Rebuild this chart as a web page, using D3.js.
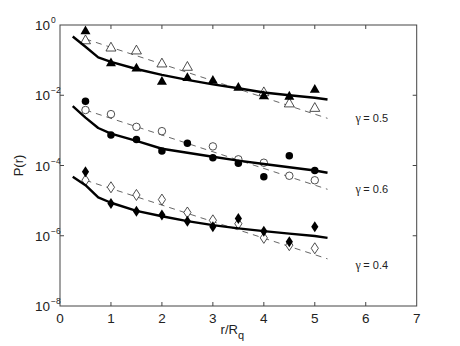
<!DOCTYPE html>
<html>
<head>
<meta charset="utf-8">
<script src="https://cdn.jsdelivr.net/npm/d3@7"></script>
<style>
  body { margin: 0; background: #fff; }
  text { font-family: "Liberation Sans", Arial, sans-serif; fill: #222; }
</style>
</head>
<body>
<div id="chart"></div>
<script>
// r / R_q positions of the measured points
var rPoints = [0.5, 1, 1.5, 2, 2.5, 3, 3.5, 4, 4.5, 5]
// r / R_q positions of the solid model curves
var rCurve = [0.25, 0.5, 0.75, 1, 1.5, 2, 2.5, 3, 3.5, 4, 4.5, 5, 5.25]
// end points of the dashed fits
var rFit = [0.5, 5.25]

// gamma = 0.5 (triangles)
var filled05 = [0.69, 0.085, 0.060, 0.025, 0.032, 0.027, 0.017, 0.0098, 0.0095, 0.0148]
var open05   = [0.37, 0.23, 0.19, 0.081, 0.065, null, null, 0.0123, 0.0059, 0.0044]
var curve05  = [0.47, 0.24, 0.12, 0.089, 0.056, 0.038, 0.0275, 0.0204, 0.0158, 0.012, 0.0100, 0.0085, 0.0076]
var fit05    = [0.40, 2.2e-3]

// gamma = 0.6 (circles)
var filled06 = [6.8e-3, 7.4e-4, 5.5e-4, 2.6e-4, 4.3e-4, 1.66e-4, 1.15e-4, 4.8e-5, 1.9e-4, 7.2e-5]
var open06   = [3.8e-3, 2.9e-3, 1.26e-3, 9.5e-4, null, 3.5e-4, 1.5e-4, 1.2e-4, 5.1e-5, 3.8e-5]
var curve06  = [4.9e-3, 2.3e-3, 1.17e-3, 8.1e-4, 5.0e-4, 3.0e-4, 2.3e-4, 1.78e-4, 1.38e-4, 1.1e-4, 8.9e-5, 7.2e-5, 6.2e-5]
var fit06    = [3.8e-3, 2.1e-5]

// gamma = 0.4 (diamonds)
var filled04 = [6.6e-5, 8.3e-6, 5.0e-6, 3.9e-6, 2.6e-6, 1.8e-6, 3.1e-6, 1.35e-6, 6.8e-7, 1.8e-6]
var open04   = [3.8e-5, 2.4e-5, 1.45e-5, 1.07e-5, 4.6e-6, 2.75e-6, 2.2e-6, 8.7e-7, 5.4e-7, 4.4e-7]
var curve04  = [4.8e-5, 2.75e-5, 1.23e-5, 8.7e-6, 5.1e-6, 3.6e-6, 2.6e-6, 2.0e-6, 1.62e-6, 1.35e-6, 1.15e-6, 9.8e-7, 8.7e-7]
var fit04    = [3.8e-5, 2.2e-7]

var xTicks = [0, 1, 2, 3, 4, 5, 6, 7]
var yTickExp = [0, -2, -4, -6, -8]
var groupLabels = ["0.5", "0.6", "0.4"]
var labelAt = [2.3e-3, 2.1e-5, 1.45e-7]

var width = 460, height = 346
var margin = {left: 60, top: 25, right: 43.3, bottom: 40}

const svg = d3.select("#chart").append("svg")
              .attr("width", width).attr("height", height)

var xScale = d3.scaleLinear().domain([0, 7]).range([margin.left, width - margin.right])
var yScale = d3.scaleLog().domain([1e-8, 1]).range([height - margin.bottom, margin.top])

var x0 = margin.left, x1 = width - margin.right
var y0 = height - margin.bottom, y1 = margin.top
var axisColor = "#444"

// box
svg.append("rect")
   .attr("x", x0).attr("y", y1)
   .attr("width", x1 - x0).attr("height", y0 - y1)
   .attr("fill", "none").attr("stroke", axisColor).attr("stroke-width", 1)

// ticks on all four sides, pointing inwards
xTicks.slice(1, -1).forEach(function(t){
    var x = xScale(t)
    svg.append("line").attr("x1", x).attr("x2", x).attr("y1", y0).attr("y2", y0 - 4).attr("stroke", axisColor)
    svg.append("line").attr("x1", x).attr("x2", x).attr("y1", y1).attr("y2", y1 + 4).attr("stroke", axisColor)
})
yTickExp.slice(1, -1).forEach(function(e){
    var y = yScale(Math.pow(10, e))
    svg.append("line").attr("x1", x0).attr("x2", x0 + 4).attr("y1", y).attr("y2", y).attr("stroke", axisColor)
    svg.append("line").attr("x1", x1).attr("x2", x1 - 4).attr("y1", y).attr("y2", y).attr("stroke", axisColor)
})

// tick labels
svg.selectAll(".xlab").data(xTicks).enter().append("text")
   .attr("x", d => xScale(d)).attr("y", y0 + 16.5)
   .attr("text-anchor", "middle").attr("font-size", 13.5)
   .text(d => d)

var yl = svg.selectAll(".ylab").data(yTickExp).enter().append("text")
   .attr("x", 50).attr("y", d => yScale(Math.pow(10, d)) + 5)
   .attr("text-anchor", "end").attr("font-size", 13.5)
yl.text("10")
yl.append("tspan").attr("dy", -7).attr("font-size", 8.5)
  .attr("x", 51).attr("text-anchor", "start")
  .text(d => d === 0 ? "0" : "\u2212" + Math.abs(d))

// axis titles
var xt = svg.append("text").attr("x", xScale(3.5) - 6).attr("y", 334)
   .attr("text-anchor", "middle").attr("font-size", 13).text("r/R")
xt.append("tspan").attr("dy", 5).attr("font-size", 11).text("q")

svg.append("text")
   .attr("transform", "translate(23," + ((y0 + y1) / 2) + ") rotate(-90)")
   .attr("text-anchor", "middle").attr("font-size", 13).text("P(r)")

var groups = [
    {filled: filled05, open: open05, curve: curve05, fit: fit05, shape: "tri"},
    {filled: filled06, open: open06, curve: curve06, fit: fit06, shape: "circ"},
    {filled: filled04, open: open04, curve: curve04, fit: fit04, shape: "dia"}
]

var line = d3.line().x(d => xScale(d[0])).y(d => yScale(d[1]))

function markerPath(shape){
    if (shape === "tri") return "M0,-5.2L5,3.6L-5,3.6Z"
    if (shape === "dia") return "M0,-5.5L3.6,0L0,5.5L-3.6,0Z"
    return d3.symbol().type(d3.symbolCircle).size(44)()
}

groups.forEach(function(g, gi){
    // dashed fit
    svg.append("path")
       .attr("d", line(rFit.map((r, i) => [r, g.fit[i]])))
       .attr("fill", "none").attr("stroke", "#555").attr("stroke-width", 0.9)
       .attr("stroke-dasharray", "6,5")

    // open markers
    svg.selectAll(".open" + gi)
       .data(rPoints.map((r, i) => [r, g.open[i]]).filter(d => d[1] !== null))
       .enter().append("path")
       .attr("d", markerPath(g.shape))
       .attr("transform", d => "translate(" + xScale(d[0]) + "," + yScale(d[1]) + ")")
       .attr("fill", "#fff").attr("stroke", "#222").attr("stroke-width", 0.8)

    // solid model curve
    svg.append("path")
       .attr("d", line(rCurve.map((r, i) => [r, g.curve[i]])))
       .attr("fill", "none").attr("stroke", "#000").attr("stroke-width", 2.4)
       .attr("stroke-linejoin", "round")

    // filled markers
    svg.selectAll(".filled" + gi)
       .data(rPoints.map((r, i) => [r, g.filled[i]]))
       .enter().append("path")
       .attr("d", markerPath(g.shape))
       .attr("transform", d => "translate(" + xScale(d[0]) + "," + yScale(d[1]) + ")")
       .attr("fill", "#000")

    var lab = svg.append("text")
       .attr("x", xScale(5.8)).attr("y", yScale(labelAt[gi]) + 4)
       .attr("font-size", 11)
    lab.append("tspan").attr("font-family", "'Liberation Serif', serif").attr("font-size", 12).text("\u03b3")
    lab.append("tspan").attr("dx", 2.5).text("= " + groupLabels[gi])
})
</script>
</body>
</html>
